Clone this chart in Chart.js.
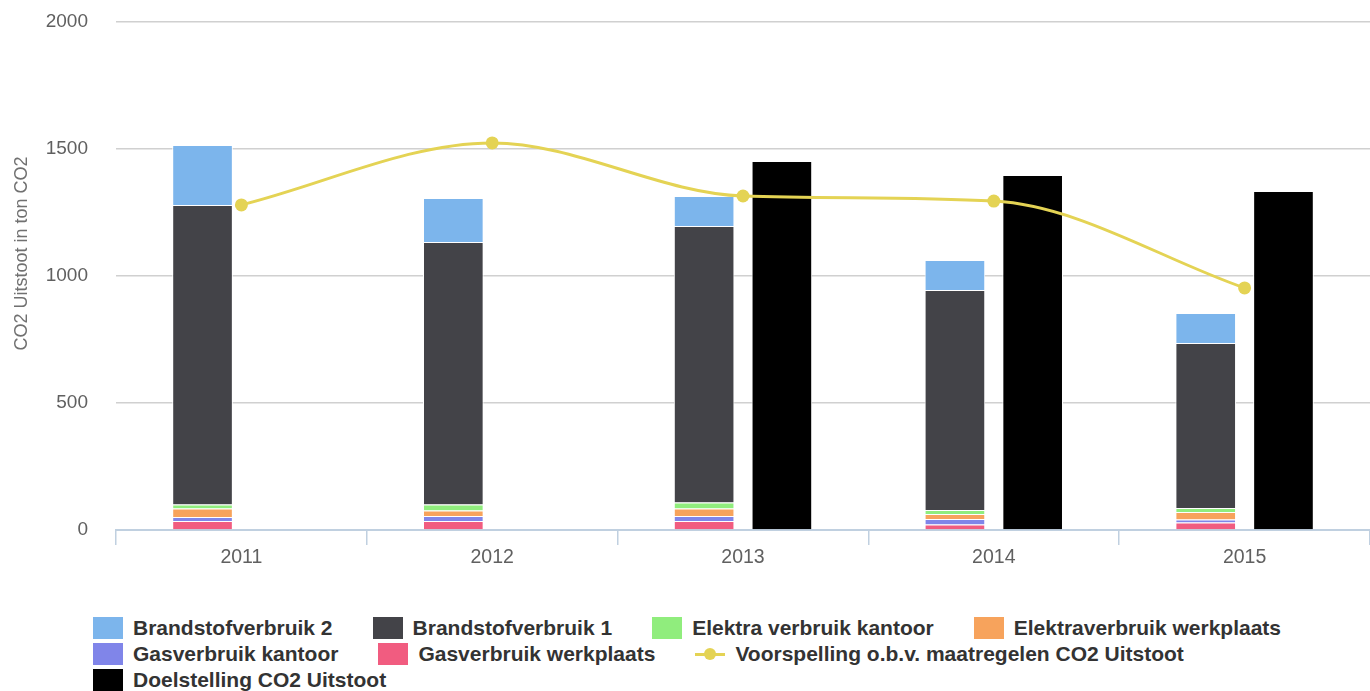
<!DOCTYPE html>
<html lang="nl">
<head>
  <meta charset="UTF-8" />
  <title>CO2 Uitstoot</title>
  <script src="https://cdn.jsdelivr.net/npm/chart.js"></script>
  <style>
    body{margin:0;background:#fff;font-family:"Liberation Sans",Arial,Helvetica,sans-serif}
    .wrap{position:relative;width:1370px;height:691px;overflow:hidden}
    #co2Chart{position:absolute;left:0;top:0}
    .legend{position:absolute;left:93px;top:617px;width:1270px;display:flex;flex-wrap:wrap;column-gap:40px;row-gap:4px}
    .item{display:flex;align-items:center;height:22px;font-size:21px;font-weight:bold;color:#333;white-space:nowrap}
    .box{width:30px;height:22px;margin-right:10px}
    .lineSym{position:relative;width:30px;height:22px;margin-right:10px}
    .lineSym:before{content:"";position:absolute;left:0;right:0;top:10px;height:3px;background:#e4d354}
    .lineSym:after{content:"";position:absolute;left:9px;top:5px;width:12px;height:12px;border-radius:50%;background:#e4d354}
  </style>
</head>
<body>
<div class="wrap">
  <canvas id="co2Chart" width="1370" height="590"></canvas>
  <div class="legend" id="legendBox"></div>
</div>

<script>
// jaren
const years = ['2011','2012','2013','2014','2015'];

// gestapelde kolommen (onder -> boven)
const gasWerkplaats     = [35, 35, 35, 22, 30];
const gasKantoor        = [16, 20, 20, 21, 11];
const elektraWerkplaats = [34, 22, 30, 20, 30];
const elektraKantoor    = [15, 23, 23, 16, 16];
const brandstof1        = [1180, 1034, 1089, 866, 649];
const brandstof2        = [236, 173, 118, 118, 118];

// lijn + doelstelling
const voorspelling = [1280, 1524, 1315, 1295, 953];
const doelstelling = [null, null, 1453, 1398, 1335];

const yTicks = [0, 500, 1000, 1500, 2000];

const C = {
  b2:'#7cb5ec', b1:'#434348', ek:'#90ed7d', ew:'#f7a35c',
  gk:'#8085e9', gw:'#f15c80', vp:'#e4d354', doel:'#000000'
};

function bar(label, data, color, stack){
  return {type:'bar', label, data, backgroundColor:color, borderColor:'#ffffff',
          borderWidth:1, stack, order:1};
}

const datasets = [
  bar('Gasverbruik werkplaats', gasWerkplaats, C.gw, 'verbruik'),
  bar('Gasverbruik kantoor', gasKantoor, C.gk, 'verbruik'),
  bar('Elektraverbruik werkplaats', elektraWerkplaats, C.ew, 'verbruik'),
  bar('Elektra verbruik kantoor', elektraKantoor, C.ek, 'verbruik'),
  bar('Brandstofverbruik 1', brandstof1, C.b1, 'verbruik'),
  bar('Brandstofverbruik 2', brandstof2, C.b2, 'verbruik'),
  bar('Doelstelling CO2 Uitstoot', doelstelling, C.doel, 'doel'),
  {type:'line', label:'Voorspelling o.b.v. maatregelen CO2 Uitstoot', data:voorspelling,
   borderColor:C.vp, backgroundColor:C.vp, borderWidth:3, cubicInterpolationMode:'monotone',
   pointRadius:6.5, pointBorderWidth:0, pointBackgroundColor:C.vp, stack:'lijn', order:0}
];

// legenda volgorde zoals in het origineel
const legendOrder = [
  'Brandstofverbruik 2','Brandstofverbruik 1','Elektra verbruik kantoor','Elektraverbruik werkplaats',
  'Gasverbruik kantoor','Gasverbruik werkplaats','Voorspelling o.b.v. maatregelen CO2 Uitstoot',
  'Doelstelling CO2 Uitstoot'
];

const fontFam = '"Liberation Sans", Arial, Helvetica, sans-serif';

new Chart(document.getElementById('co2Chart').getContext('2d'), {
  type:'bar',
  data:{labels:years, datasets},
  options:{
    responsive:false,
    animation:false,
    layout:{autoPadding:false, padding:{top:22,right:0,bottom:0,left:0}},
    datasets:{bar:{categoryPercentage:0.62, barPercentage:0.78}},
    plugins:{legend:{display:false}, tooltip:{enabled:false}},
    scales:{
      x:{
        stacked:true,
        grid:{offset:true, drawOnChartArea:false, drawTicks:true, tickLength:15, color:'#c0d0e0', lineWidth:1.5},
        border:{display:true, color:'#c0d0e0', width:2},
        ticks:{color:'#606060', font:{family:fontFam, size:19.5}, padding:1},
        afterFit(s){ s.height = 60; s.paddingLeft = 0; s.paddingRight = 0; }
      },
      y:{
        stacked:true,
        min:0, max:2000,
        afterBuildTicks(s){ s.ticks = yTicks.map(v => ({value:v})); },
        grid:{color:'#d0d0d0', lineWidth:1.5, drawTicks:false},
        border:{display:false},
        ticks:{color:'#606060', font:{family:fontFam, size:19}, padding:28, callback:v => String(v)},
        title:{display:true, text:'\u00a0'.repeat(9) + 'CO2 Uitstoot in ton CO2', color:'#707070',
               font:{family:fontFam, size:18}, padding:{top:11,bottom:0}},
        afterFit(s){ s.width = 116; s.paddingTop = 11; s.paddingBottom = 11; }
      }
    }
  }
});

// HTML legenda
const box = document.getElementById('legendBox');
legendOrder.forEach(name => {
  const ds = datasets.find(d => d.label === name);
  const item = document.createElement('div');
  item.className = 'item';
  const sym = document.createElement('span');
  if (ds.type === 'line') sym.className = 'lineSym';
  else { sym.className = 'box'; sym.style.background = ds.backgroundColor; }
  item.appendChild(sym);
  item.appendChild(document.createTextNode(name));
  box.appendChild(item);
});
</script>
</body>
</html>
